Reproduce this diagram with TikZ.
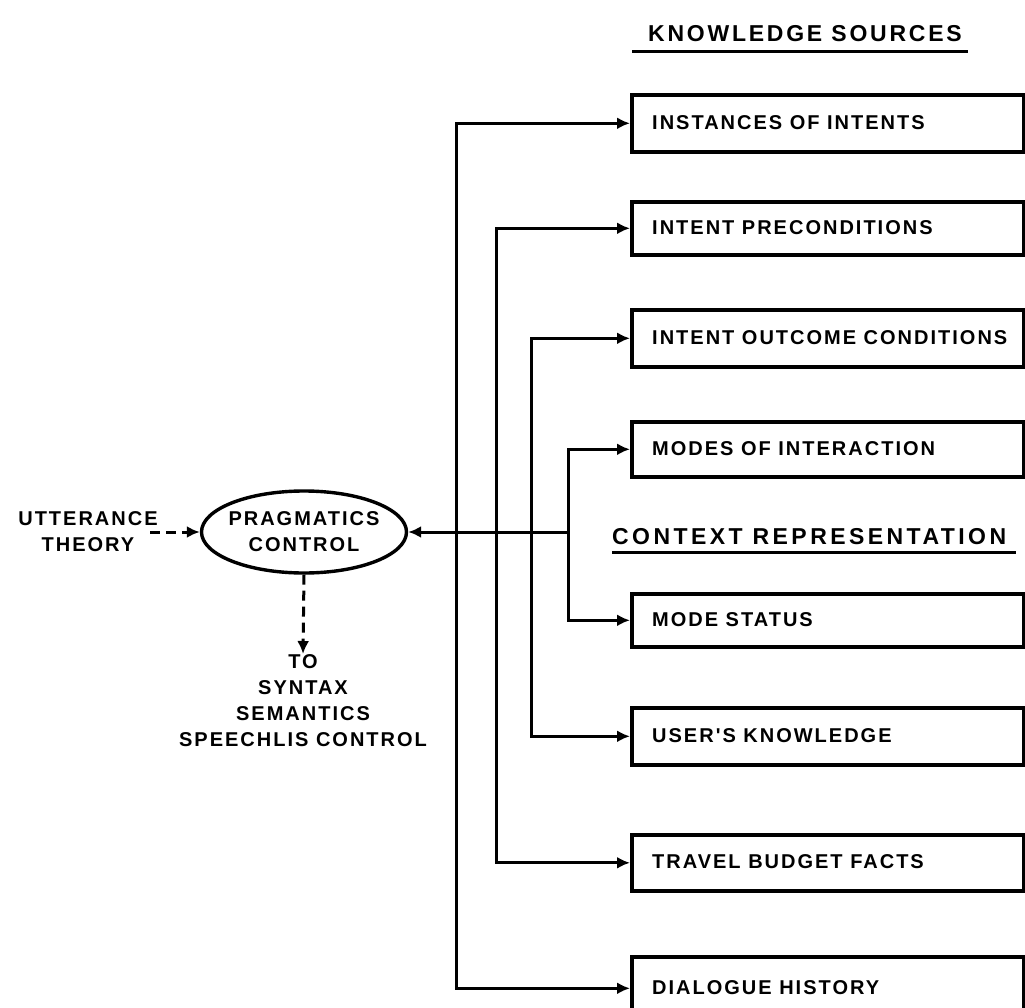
\documentclass[tikz,border=0pt]{standalone}
\usepackage{fontspec}
\setmainfont{Liberation Sans}
\newfontfamily\lblfont[LetterSpace=10]{Liberation Sans}
\newfontfamily\headfont[LetterSpace=12]{Liberation Sans}
\newfontfamily\crfont[LetterSpace=15]{Liberation Sans}
\usetikzlibrary{arrows.meta,shapes.geometric}
\begin{document}
\begin{tikzpicture}[x=1pt,y=-1pt,
  lbl/.style={font=\lblfont\fontsize{20}{26}\selectfont\bfseries, inner sep=0pt, align=center},
  head/.style={font=\headfont\fontsize{23}{26}\selectfont\bfseries, inner sep=0pt},
  ksbox/.style={draw, line width=3.6pt, minimum width=392pt, anchor=north west, inner sep=0pt},
  conn/.style={line width=3pt},
  arr/.style={conn, -{Latex[length=13pt,width=12pt]}},
  darr/.style={conn, dashed, dash pattern=on 10pt off 6pt, -{Latex[length=13pt,width=12pt]}}]
\clip (0,0) rectangle (1025,1008);
\useasboundingbox (0,0) rectangle (1025,1008);
% headings
\node[head, anchor=west] (ks) at (648,34) {KNOWLEDGE SOURCES};
\draw[line width=3pt] (632,52) -- (968,52);
\node[head, font=\crfont\fontsize{23}{26}\selectfont\bfseries, anchor=west] (cr) at (612,537) {CONTEXT REPRESENTATION};
\draw[line width=3pt] (612,552) -- (1016,552);
% boxes
\foreach \n/\t/\b/\txt in {b1/93/150/INSTANCES OF INTENTS, b2/200/253/INTENT PRECONDITIONS,
  b3/308/365/INTENT OUTCOME CONDITIONS, b4/420/475/MODES OF INTERACTION,
  b5/592/645/MODE STATUS, b6/706/763/USER'S KNOWLEDGE,
  b7/833/889/TRAVEL BUDGET FACTS, b8/955/1018/DIALOGUE HISTORY}{
  \node[ksbox, minimum height={\b-\t}] (\n) at (630,\t) {};
  \node[lbl, anchor=west] (\n t) at (652,{(\t+\b)/2+1}) {\txt};
}
% ellipse
\node[draw, ellipse, line width=3.4pt, minimum width=205pt, minimum height=82pt, inner sep=0pt] (pc) at (304,532) {};
\node[lbl] (pct) at (304,532) {PRAGMATICS\\CONTROL};
\node[lbl] (ut) at (88,532) {UTTERANCE\\THEORY};
\node[lbl, anchor=north] (to) at (303,654) {TO\\SYNTAX\\SEMANTICS\\SPEECHLIS CONTROL};
% connectors
\coordinate (j1) at (456,532);
\coordinate (j2) at (496,532);
\coordinate (j3) at (531,532);
\coordinate (j4) at (568,532);
\coordinate (us) at (150,532);
\draw[darr] (us) -- (pc.west);
\draw[darr] (pc.south) -- (to.north);
\draw[arr] (j4) -- (pc.east);
\draw[arr] (j1) |- (b1.west);
\draw[arr] (j1) |- (b8.west);
\draw[arr] (j2) |- (b2.west);
\draw[arr] (j2) |- (b7.west);
\draw[arr] (j3) |- (b3.west);
\draw[arr] (j3) |- (b6.west);
\draw[arr] (j4) |- (b4.west);
\draw[arr] (j4) |- (b5.west);
\end{tikzpicture}
\end{document}
